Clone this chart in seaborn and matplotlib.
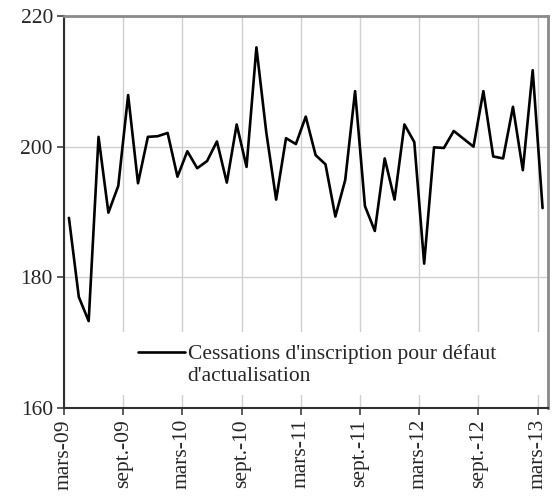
import matplotlib
matplotlib.use("Agg")
import matplotlib.pyplot as plt
import seaborn as sns
import pandas as pd
from matplotlib.patches import Rectangle
from matplotlib.offsetbox import HPacker

months = ["mars-09", "avr.-09", "mai-09", "juin-09", "juil.-09", "août-09", "sept.-09", "oct.-09", "nov.-09", "déc.-09",
          "janv.-10", "févr.-10", "mars-10", "avr.-10", "mai-10", "juin-10", "juil.-10", "août-10", "sept.-10", "oct.-10",
          "nov.-10", "déc.-10", "janv.-11", "févr.-11", "mars-11", "avr.-11", "mai-11", "juin-11", "juil.-11", "août-11",
          "sept.-11", "oct.-11", "nov.-11", "déc.-11", "janv.-12", "févr.-12", "mars-12", "avr.-12", "mai-12", "juin-12",
          "juil.-12", "août-12", "sept.-12", "oct.-12", "nov.-12", "déc.-12", "janv.-13", "févr.-13", "mars-13"]
values = [189.1, 177.0, 173.3, 201.5, 189.9, 194.0, 207.9, 194.4, 201.5, 201.6,
          202.1, 195.4, 199.3, 196.7, 197.8, 200.8, 194.5, 203.4, 196.9, 215.2,
          202.2, 191.9, 201.3, 200.4, 204.6, 198.7, 197.3, 189.3, 194.9, 208.5,
          190.9, 187.1, 198.2, 191.9, 203.4, 200.7, 182.1, 199.9, 199.8, 202.4,
          201.2, 200.0, 208.5, 198.5, 198.2, 206.1, 196.4, 211.7, 190.6]
tick_labels = ["mars-09", "sept.-09", "mars-10", "sept.-10", "mars-11", "sept.-11", "mars-12", "sept.-12", "mars-13"]
series_label = "Cessations d'inscription pour défaut\nd'actualisation"

FS = 15.5
sns.set_style("white")
plt.rcParams["font.family"] = ["Liberation Serif", "DejaVu Serif"]
plt.rcParams["font.size"] = FS

df = pd.DataFrame({"i": range(len(values)), "v": values, "m": months})

fig = plt.figure(figsize=(5.56, 4.97), dpi=100)
ax = fig.add_axes([64 / 556, 1 - 408 / 497, (547.5 - 64) / 556, (408 - 16) / 497])

sns.lineplot(data=df, x="i", y="v", ax=ax, color="black", linewidth=1.9, zorder=3)

ax.set_xlim(-0.5, len(values) - 0.5)
ax.set_ylim(160, 220)
ax.set_yticks([160, 180, 200, 220])
tick_pos = [df["i"][df["m"] == t].iloc[0] - 0.5 for t in tick_labels]
ax.set_xticks(tick_pos)
ax.set_xticklabels(tick_labels, rotation=90, va="top", ha="center")
ax.set_xlabel("")
ax.set_ylabel("")

ax.grid(True, color="#d0d0d0", linewidth=1.0)
ax.set_axisbelow(True)
ax.tick_params(axis="both", direction="out", length=5, width=1.2, color="#404040",
               left=True, bottom=True, labelsize=FS, pad=3)

for side in ["left", "bottom"]:
    ax.spines[side].set_color("#303030")
    ax.spines[side].set_linewidth(1.5)
for side in ["top", "right"]:
    ax.spines[side].set_color("#8a8a8a")
    ax.spines[side].set_linewidth(2.0)

# white legend area covering the gridlines
ax.add_patch(Rectangle((0.005, (408 - 395) / 392), 0.99, (395 - 332) / 392,
                       transform=ax.transAxes, facecolor="white", edgecolor="none", zorder=1))

leg = ax.legend([ax.lines[0]], [series_label], loc="upper left",
                bbox_to_anchor=((138 - 64) / 483.5, (408 - 344) / 392),
                frameon=False, handlelength=2.2, handletextpad=0.1, fontsize=FS,
                borderaxespad=0, borderpad=0, labelspacing=0.2)
for col in leg._legend_handle_box.get_children():
    for row in col.get_children():
        if isinstance(row, HPacker):
            row.align = "top"

fig.savefig("out.png", dpi=100)
